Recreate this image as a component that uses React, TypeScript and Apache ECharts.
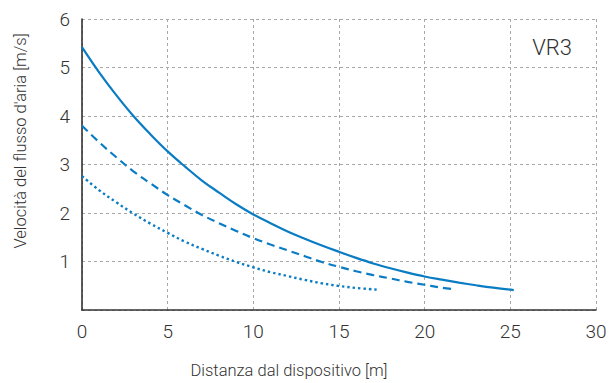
import React, { useEffect, useRef } from "react";
import * as echarts from "echarts";

const xTicks = [0, 5, 10, 15, 20, 25, 30];
const yTicks = [0, 1, 2, 3, 4, 5, 6];

const solidX = [0, 1, 2, 3, 4, 5, 6, 7, 8, 9, 10, 11, 12, 13, 14, 15, 16, 17, 18, 19, 20, 21, 22, 23, 24, 25.2];
const solidY = [5.42, 4.9, 4.43, 4.0, 3.62, 3.27, 2.96, 2.67, 2.42, 2.18, 1.97, 1.79, 1.62, 1.47, 1.33, 1.2, 1.075, 0.96, 0.86, 0.77, 0.69, 0.625, 0.565, 0.51, 0.46, 0.41];

const dashedX = [0, 1, 2, 3, 4, 5, 6, 7, 8, 9, 10, 11, 12, 13, 14, 15, 16, 17, 18, 19, 20, 21, 21.7];
const dashedY = [3.8, 3.46, 3.15, 2.86, 2.61, 2.37, 2.16, 1.96, 1.79, 1.63, 1.48, 1.35, 1.23, 1.11, 0.99, 0.89, 0.8, 0.72, 0.65, 0.58, 0.52, 0.46, 0.43];

const dottedX = [0, 1, 2, 3, 4, 5, 6, 7, 8, 9, 10, 11, 12, 13, 14, 15, 16, 17.2];
const dottedY = [2.76, 2.47, 2.22, 1.99, 1.78, 1.59, 1.41, 1.26, 1.12, 0.99, 0.88, 0.78, 0.7, 0.62, 0.55, 0.495, 0.455, 0.42];

const xTitle = "Distanza dal dispositivo [m]";
const yTitle = "Velocità del flusso d'aria [m/s]";
const modelLabel = "VR3";

const FONT = "Roboto";
const WEIGHT = 300;
const BLUE = "#0a7cc4";
const TEXT = "#333";

function zip(xs: number[], ys: number[]) {
  return xs.map((x, i) => [x, ys[i]]);
}

export default function App() {
  const ref = useRef<HTMLDivElement>(null);
  useEffect(() => {
    if (!ref.current) return;
    const chart = echarts.init(ref.current, null, { renderer: "svg" });
    const split = { show: true, lineStyle: { color: "#a8a8a8", width: 1, type: [3, 3] as any } };
    const axisLine = { show: true, onZero: false, lineStyle: { color: "#333", width: 1.6 } };
    const label = { fontFamily: FONT, fontWeight: WEIGHT, fontSize: 19, color: TEXT, margin: 12 };
    chart.setOption({
      animation: false,
      backgroundColor: "#fff",
      grid: { left: 82, right: 14, top: 19, bottom: 73 },
      xAxis: {
        type: "value",
        min: xTicks[0],
        max: xTicks[xTicks.length - 1],
        interval: 5,
        axisLine,
        axisTick: { show: false },
        splitLine: split,
        axisLabel: label,
      },
      yAxis: {
        type: "value",
        min: yTicks[0],
        max: yTicks[yTicks.length - 1],
        interval: 1,
        axisLine,
        axisTick: { show: false },
        splitLine: split,
        axisLabel: { ...label, formatter: (v: number) => (v === 0 ? "" : String(v)) },
      },
      graphic: [
        {
          type: "text",
          x: 289,
          y: 370,
          style: {
            text: xTitle,
            fontFamily: FONT,
            fontWeight: WEIGHT,
            fontSize: 16.5,
            fill: TEXT,
            align: "center",
            verticalAlign: "middle",
          },
        },
        {
          type: "text",
          x: 20,
          y: 141,
          rotation: Math.PI / 2,
          style: {
            text: yTitle,
            fontFamily: FONT,
            fontWeight: WEIGHT,
            fontSize: 16.5,
            fill: TEXT,
            align: "center",
            verticalAlign: "middle",
          },
        },
        {
          type: "text",
          x: 552,
          y: 47,
          style: {
            text: modelLabel,
            fontFamily: FONT,
            fontWeight: WEIGHT,
            fontSize: 22,
            fill: TEXT,
            align: "center",
            verticalAlign: "middle",
          },
        },
      ],
      series: [
        {
          type: "line",
          data: zip(solidX, solidY),
          smooth: 0.4,
          showSymbol: false,
          lineStyle: { color: BLUE, width: 2.2 },
        },
        {
          type: "line",
          data: zip(dashedX, dashedY),
          smooth: 0.4,
          showSymbol: false,
          lineStyle: { color: BLUE, width: 2.2, type: [8, 5] },
        },
        {
          type: "line",
          data: zip(dottedX, dottedY),
          smooth: 0.4,
          showSymbol: false,
          lineStyle: { color: BLUE, width: 2.4, type: [2.4, 3] },
        },
      ],
    });
    return () => chart.dispose();
  }, []);
  return <div ref={ref} style={{ width: 610, height: 383, position: "absolute", left: 0, top: 0 }} />;
}
